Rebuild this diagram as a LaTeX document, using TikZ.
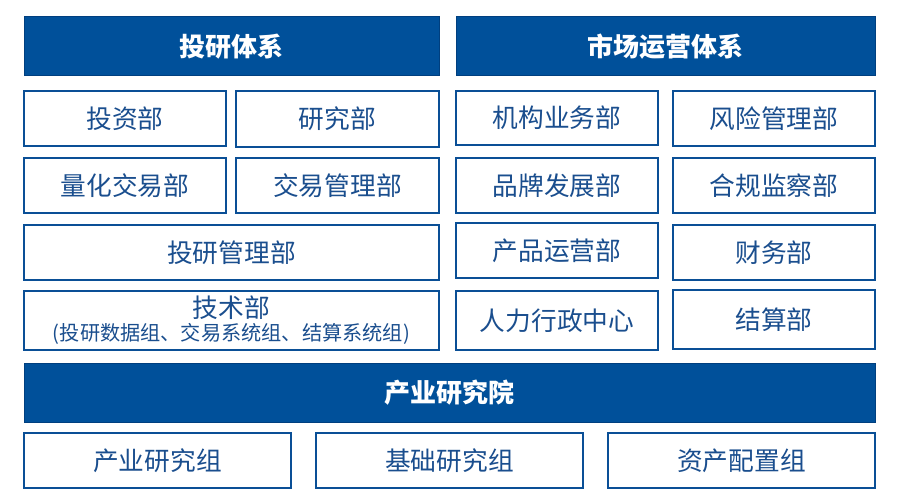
\documentclass[tikz,border=0pt]{standalone}
\usepackage{fontspec}
\newfontfamily\cjk{Noto Sans CJK SC}
\definecolor{hdrblue}{HTML}{00509A}
\definecolor{hdrline}{HTML}{003F7F}
\definecolor{boxline}{HTML}{0A4F96}
\definecolor{txtblue}{HTML}{1A4E8E}
\tikzset{
  hdr/.style={draw=hdrline, line width=1pt, fill=hdrblue, text=white, inner sep=0pt,
    font=\cjk\bfseries\fontsize{26}{30}\selectfont},
  dept/.style={draw=boxline, line width=1.3pt, fill=white, text=txtblue, inner sep=0pt, align=center,
    font=\cjk\fontsize{25.7}{30}\selectfont},
}
% place a box by its pixel corners: x1,y1,x2,y2
\newcommand{\pbox}[7]{%
  \node[#1, minimum width={(#5-#3)*1pt}, minimum height={(#6-#4)*1pt}] (#2) at ({(#3+#5)/2*1pt},{-(#4+#6)/2*1pt}) {#7};}
\begin{document}
\begin{tikzpicture}[x=1pt,y=1pt]
\useasboundingbox[fill=white] (0,0) rectangle (911,-503);
\pbox{hdr}{h1}{24}{17}{439}{76}{投研体系}
\pbox{hdr}{h2}{456}{17}{875}{76}{市场运营体系}
\pbox{dept}{a1}{24}{91}{226}{146}{投资部}
\pbox{dept}{a2}{236}{91}{439}{147}{研究部}
\pbox{dept}{a3}{24}{158}{226}{213}{量化交易部}
\pbox{dept}{a4}{236}{158}{439}{213}{交易管理部}
\pbox{dept}{a5}{24}{225}{439}{280}{投研管理部}
\node[dept, minimum width=415pt, minimum height=59pt] (a6) at (231.5,-320.5) {};
\node[text=txtblue, font=\cjk\fontsize{25.7}{30}\selectfont, inner sep=0pt] (a6t) at (231.5,-308) {技术部};
\node[text=txtblue, font=\cjk\fontsize{20.2}{24}\selectfont, inner sep=0pt] (a6s) at (231.5,-334) {(投研数据组、交易系统组、结算系统组)};
\pbox{dept}{b1}{456}{91}{658}{145}{机构业务部}
\pbox{dept}{b2}{673}{91}{875}{146}{风险管理部}
\pbox{dept}{b3}{456}{158}{658}{213}{品牌发展部}
\pbox{dept}{b4}{673}{158}{875}{213}{合规监察部}
\pbox{dept}{b5}{456}{223}{658}{278}{产品运营部}
\pbox{dept}{b6}{673}{225}{875}{280}{财务部}
\pbox{dept}{b7}{456}{291}{658}{350}{人力行政中心}
\pbox{dept}{b8}{673}{290}{875}{349}{结算部}
\pbox{hdr}{h3}{24}{363}{875}{422}{产业研究院}
\pbox{dept}{c1}{24}{433}{291}{488}{产业研究组}
\pbox{dept}{c2}{316}{433}{583}{488}{基础研究组}
\pbox{dept}{c3}{608}{433}{875}{488}{资产配置组}
\end{tikzpicture}
\end{document}
